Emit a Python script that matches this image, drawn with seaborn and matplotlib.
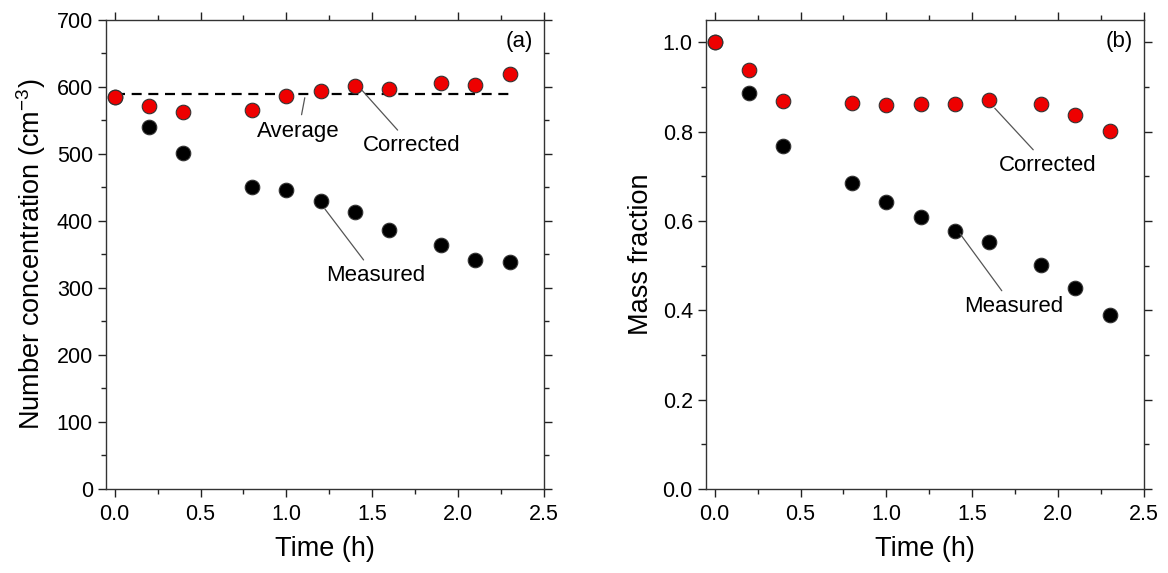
"""Number concentration and mass fraction vs time, measured vs corrected."""
import matplotlib
matplotlib.use("Agg")
import matplotlib.pyplot as plt
import numpy as np
import pandas as pd
import seaborn as sns
from matplotlib.ticker import FormatStrFormatter, MultipleLocator

time_h = [0.0, 0.2, 0.4, 0.8, 1.0, 1.2, 1.4, 1.6, 1.9, 2.1, 2.3]

number_measured = [585, 540, 502, 451, 447, 430, 413, 387, 364, 342, 339]
number_corrected = [585, 572, 563, 565, 587, 594, 601, 597, 606, 603, 620]

mass_measured = [1.0, 0.886, 0.768, 0.685, 0.642, 0.609, 0.577, 0.554, 0.501, 0.449, 0.389]
mass_corrected = [1.0, 0.939, 0.868, 0.864, 0.859, 0.863, 0.863, 0.872, 0.863, 0.837, 0.801]

sns.set_theme(style="ticks")
plt.rcParams["font.family"] = ["Liberation Sans", "DejaVu Sans"]
plt.rcParams["mathtext.fontset"] = "custom"
plt.rcParams["mathtext.rm"] = "Liberation Sans"
plt.rcParams["text.color"] = "black"
plt.rcParams["axes.labelcolor"] = "black"
plt.rcParams["xtick.labelcolor"] = "black"
plt.rcParams["ytick.labelcolor"] = "black"

fig = plt.figure(figsize=(11.68, 5.73), dpi=100)
ax_a = fig.add_axes([0.0908, 0.1466, 0.375, 0.8185])
ax_b = fig.add_axes([0.6045, 0.1466, 0.375, 0.8185])

dot = dict(s=110, edgecolor="#333333", linewidth=0.8, zorder=3, legend=False)
line_kw = dict(arrowstyle="-", color="#555555", lw=0.9)
note_size = 16


def style_axes(ax, ymax, ymajor, yminor, ylabel):
    ax.set_xlim(-0.05, 2.5)
    ax.set_ylim(0, ymax)
    ax.xaxis.set_major_locator(MultipleLocator(0.5))
    ax.xaxis.set_minor_locator(MultipleLocator(0.25))
    ax.yaxis.set_major_locator(MultipleLocator(ymajor))
    ax.yaxis.set_minor_locator(MultipleLocator(yminor))
    ax.xaxis.set_major_formatter(FormatStrFormatter("%.1f"))
    ax.tick_params(which="both", direction="out", top=True, right=True,
                   labelsize=15.5, color="#222222", width=1.0)
    ax.tick_params(which="major", length=6)
    ax.tick_params(which="minor", length=3.5)
    ax.tick_params(axis="x", which="major", pad=5)
    for sp in ax.spines.values():
        sp.set_visible(True)
        sp.set_color("#333333")
        sp.set_linewidth(1.0)
    ax.set_xlabel("Time (h)", fontsize=19.5, labelpad=8)
    ax.set_ylabel(ylabel, fontsize=19.5, labelpad=6)


# panel (a)
df_a = pd.DataFrame({"t": time_h, "meas": number_measured, "corr": number_corrected})
avg = np.mean(number_corrected)
sns.lineplot(x=[time_h[0], time_h[-1]], y=[avg, avg], ax=ax_a, color="black",
             linestyle=(0, (4.5, 3)), linewidth=1.6, zorder=2)
sns.scatterplot(data=df_a, x="t", y="meas", color="black", ax=ax_a, **dot)
sns.scatterplot(data=df_a, x="t", y="corr", color="#ee0000", ax=ax_a, **dot)
style_axes(ax_a, 700, 100, 50, "Number concentration (cm$^{-3}$)")
ax_a.annotate("Average", xy=(1.11, 588), xytext=(1.07, 534), fontsize=note_size,
              ha="center", va="center", arrowprops=line_kw)
ax_a.annotate("Corrected", xy=(1.43, 598), xytext=(1.73, 512), fontsize=note_size,
              ha="center", va="center", arrowprops=line_kw)
ax_a.annotate("Measured", xy=(1.215, 421), xytext=(1.52, 318), fontsize=note_size,
              ha="center", va="center", arrowprops=line_kw)
ax_a.text(0.975, 0.955, "(a)", transform=ax_a.transAxes, ha="right", va="center",
          fontsize=note_size)

# panel (b)
df_b = pd.DataFrame({"t": time_h, "meas": mass_measured, "corr": mass_corrected})
sns.scatterplot(data=df_b, x="t", y="meas", color="black", ax=ax_b, **dot)
sns.scatterplot(data=df_b, x="t", y="corr", color="#ee0000", ax=ax_b, **dot)
style_axes(ax_b, 1.05, 0.2, 0.1, "Mass fraction")
ax_b.yaxis.set_major_formatter(FormatStrFormatter("%.1f"))
ax_b.annotate("Corrected", xy=(1.62, 0.857), xytext=(1.94, 0.724), fontsize=note_size,
              ha="center", va="center", arrowprops=line_kw)
ax_b.annotate("Measured", xy=(1.42, 0.576), xytext=(1.74, 0.408), fontsize=note_size,
              ha="center", va="center", arrowprops=line_kw)
ax_b.text(0.975, 0.955, "(b)", transform=ax_b.transAxes, ha="right", va="center",
          fontsize=note_size)

fig.savefig("out.png", dpi=100)
